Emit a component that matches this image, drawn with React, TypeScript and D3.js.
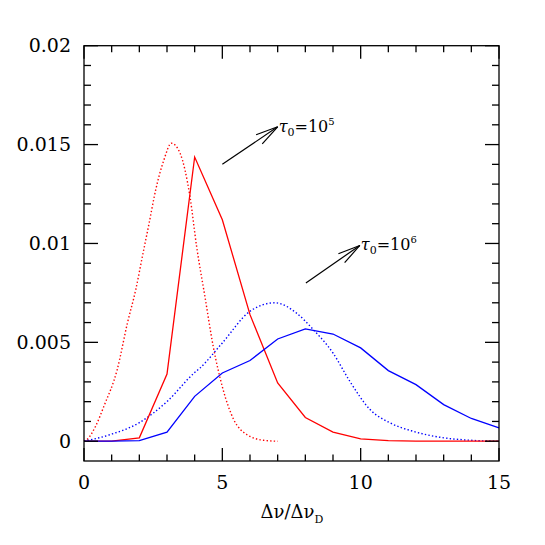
import React from "react";
import * as d3 from "d3";

// tau0 = 1e5 (red) and tau0 = 1e6 (blue), histograms at integer bins
const binX = [0, 1, 2, 3, 4, 5, 6, 7, 8, 9, 10, 11, 12, 13, 14, 15];
const redSolid = [0, 0, 0.00017, 0.0034, 0.01437, 0.0112, 0.0064, 0.00295, 0.0012, 0.00046, 0.00012, 0.00003, 0.00001, 0, 0, 0];
const blueSolid = [0, 0.00001, 0.00003, 0.00046, 0.00227, 0.00345, 0.00408, 0.00517, 0.00568, 0.00542, 0.00472, 0.00357, 0.00286, 0.00185, 0.00115, 0.00068];

// analytic curves (dotted)
const redDotX = [0, 0.12, 0.42, 0.72, 1.2, 1.57, 1.87, 2.11, 2.35, 2.59, 2.89, 3.16, 3.47, 3.83, 4.07, 4.37, 4.67, 5.03, 5.41, 5.88, 6.48, 7.0];
const redDotY = [0, 0.0001, 0.00076, 0.00177, 0.00362, 0.00598, 0.00766, 0.00934, 0.011, 0.0127, 0.01423, 0.01507, 0.01457, 0.01237, 0.00985, 0.00732, 0.0048, 0.0026, 0.0011, 0.00034, 0.00005, 0];
const blueDotX = [0, 0.96, 1.99, 3.01, 3.98, 4.19, 5, 6, 6.9, 7.68, 8.29, 9, 9.6, 10.34, 11.06, 11.9, 12.87, 13.95, 15];
const blueDotY = [0, 0.00034, 0.00093, 0.00202, 0.00345, 0.0037, 0.00497, 0.00657, 0.007, 0.00648, 0.00564, 0.00446, 0.00305, 0.0016, 0.00093, 0.0005, 0.0002, 0.00005, 0];

const xTickLabels = ["0", "5", "10", "15"];
const yTickLabels = ["0", "0.005", "0.01", "0.015", "0.02"];

const W = 545;
const H = 545;
const left = 84;
const right = 499;
const top = 45.7;
const bottom = 461;
const font = "'DejaVu Serif', serif";

export default function App() {
  const x = d3.scaleLinear().domain([0, 15]).range([left, right]);
  const y = d3.scaleLinear().domain([-0.001, 0.02]).range([bottom, top]);

  const straight = d3
    .line<[number, number]>()
    .x((d) => x(d[0]))
    .y((d) => y(d[1]));
  const smooth = d3
    .line<[number, number]>()
    .x((d) => x(d[0]))
    .y((d) => y(d[1]))
    .curve(d3.curveMonotoneX);

  const zip = (xs: number[], ys: number[]) =>
    xs.map((v, i) => [v, ys[i]] as [number, number]);

  const xMinor = d3.range(0, 16, 1);
  const yMinor = d3.range(0, 21, 1).map((v) => v / 1000);

  const arrow = (x0: number, y0: number, x1: number, y1: number) => {
    const ax = x(x0), ay = y(y0), bx = x(x1), by = y(y1);
    const ang = Math.atan2(ay - by, ax - bx);
    const len = 23;
    const spread = 0.24;
    const p1 = [bx + len * Math.cos(ang + spread), by + len * Math.sin(ang + spread)];
    const p2 = [bx + len * Math.cos(ang - spread), by + len * Math.sin(ang - spread)];
    return (
      <g stroke="#000" strokeWidth={1.2} fill="none">
        <line x1={ax} y1={ay} x2={bx} y2={by} />
        <line x1={bx} y1={by} x2={p1[0]} y2={p1[1]} />
        <line x1={bx} y1={by} x2={p2[0]} y2={p2[1]} />
      </g>
    );
  };

  const tauLabel = (px: number, py: number, exp: string) => (
    <text x={px + 1} y={py + 5} fontFamily={font} fontSize={16} fill="#000">
      <tspan fontStyle="italic">τ</tspan>
      <tspan dy={4} fontSize={11}>0</tspan>
      <tspan dy={-4}>=10</tspan>
      <tspan dy={-7} fontSize={10}>{exp}</tspan>
    </text>
  );

  return (
    <svg width={W} height={H} style={{ position: "absolute", left: 0, top: 0 }}>
      <rect width={W} height={H} fill="#fff" />

      {/* curves */}
      <path d={smooth(zip(redDotX, redDotY)) || ""} fill="none" stroke="#f00" strokeWidth={1.4} strokeDasharray="1.4,2.2" />
      <path d={smooth(zip(blueDotX, blueDotY)) || ""} fill="none" stroke="#00f" strokeWidth={1.4} strokeDasharray="1.4,2.2" />
      <path d={straight(zip(binX, redSolid)) || ""} fill="none" stroke="#f00" strokeWidth={1.3} />
      <path d={straight(zip(binX, blueSolid)) || ""} fill="none" stroke="#00f" strokeWidth={1.3} />

      {/* frame and ticks */}
      <g stroke="#000" strokeWidth={1.3}>
        <rect x={left} y={top} width={right - left} height={bottom - top} fill="none" />
        {xMinor.map((v) => {
          const len = v % 5 === 0 ? 13 : 6.5;
          return (
            <g key={"x" + v}>
              <line x1={x(v)} x2={x(v)} y1={bottom} y2={bottom - len} />
              <line x1={x(v)} x2={x(v)} y1={top} y2={top + len} />
            </g>
          );
        })}
        {yMinor.map((v, i) => {
          const len = i % 5 === 0 ? 14 : 7;
          return (
            <g key={"y" + i}>
              <line x1={left} x2={left + len} y1={y(v)} y2={y(v)} />
              <line x1={right} x2={right - len} y1={y(v)} y2={y(v)} />
            </g>
          );
        })}
      </g>

      {/* tick labels */}
      <g fontFamily={font} fontSize={19} fill="#000">
        {xTickLabels.map((t) => (
          <text key={t} x={x(+t)} y={489} textAnchor="middle">{t}</text>
        ))}
        {yTickLabels.map((t) => (
          <text key={t} x={71} y={y(+t)} dy="0.35em" textAnchor="end">{t}</text>
        ))}
      </g>

      {/* axis label */}
      <text x={292} y={518} textAnchor="middle" fontFamily={font} fontSize={18} fill="#000">
        Δν/Δν<tspan dy={5} fontSize={11}>D</tspan>
      </text>

      {/* annotations */}
      {arrow(5.0, 0.014, 7.0, 0.0159)}
      {tauLabel(x(7.0), y(0.0159), "5")}
      {arrow(8.02, 0.008, 9.97, 0.0099)}
      {tauLabel(x(9.97), y(0.0099), "6")}
    </svg>
  );
}
